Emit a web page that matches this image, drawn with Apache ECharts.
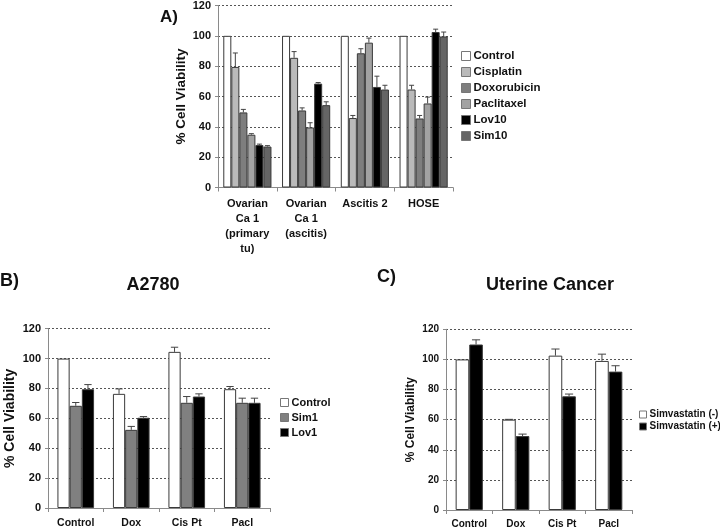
<!DOCTYPE html>
<html>
<head>
<meta charset="utf-8">
<script src="https://cdn.jsdelivr.net/npm/echarts@6/dist/echarts.min.js"></script>
<style>html,body{margin:0;padding:0;background:#fff}#c{width:720px;height:530px}</style>
</head>
<body>
<div id="c"></div>
<script>
// ---------- Panel A ----------
const catsA = ['Ovarian\nCa 1\n(primary\ntu)', 'Ovarian\nCa 1\n(ascitis)', 'Ascitis 2', 'HOSE'];
const namesA = ['Control', 'Cisplatin', 'Doxorubicin', 'Paclitaxel', 'Lov10', 'Sim10'];
const colorsA = ['#ffffff', '#bababa', '#7e7e7e', '#a2a2a2', '#000000', '#656565'];
const valsA = [
  [100, 100, 100, 100],
  [79.5, 85.5, 45.8, 64.6],
  [49.5, 50.8, 88.5, 45.5],
  [34.8, 39.6, 95.5, 55.4],
  [28, 68.5, 66.3, 102.5],
  [27, 54.3, 64.6, 99.6]
];
const errA = [
  [100, 100, 100, 100],
  [88.7, 89.6, 47.5, 67.4],
  [51.5, 52.5, 91.5, 47.5],
  [35.5, 42.7, 98.5, 59.6],
  [28.6, 69.2, 73.4, 104.4],
  [27.6, 56.5, 67.4, 102.5]
];
// ---------- Panel B ----------
const catsB = ['Control', 'Dox', 'Cis Pt', 'Pacl'];
const namesB = ['Control', 'Sim1', 'Lov1'];
const colorsB = ['#ffffff', '#808080', '#000000'];
const valsB = [
  [100, 76.4, 104.5, 79.5],
  [68.4, 52.3, 70.4, 70.4],
  [79.5, 60.4, 74.6, 70.4]
];
const errB = [
  [100, 79.7, 107.6, 81.3],
  [70.6, 54.6, 74.6, 73.5],
  [82.6, 61.2, 76.4, 73.5]
];
// ---------- Panel C ----------
const catsC = ['Control', 'Dox', 'Cis Pt', 'Pacl'];
const namesC = ['Simvastatin (-)', 'Simvastatin (+)'];
const colorsC = ['#ffffff', '#000000'];
const valsC = [
  [100, 60, 102.5, 99],
  [109.9, 49.1, 75.5, 91.9]
];
const errC = [
  [100, 60.2, 106.9, 103.5],
  [113, 50.4, 77, 95.8]
];
const yTicks = [0, 20, 40, 60, 80, 100, 120];

const chart = echarts.init(document.getElementById('c'));
const FONT = 'Liberation Sans, Arial, sans-serif';

const panels = [
  {cats: catsA, names: namesA, colors: colorsA, vals: valsA, errs: errA, gap: 0.18,
   grid: {left: 218, top: 5, width: 235, height: 182.5},
   xFont: 11, xMargin: 9, lineH: 15, yFont: 11, nameFont: 13.5, nameGap: 29,
   legend: {left: 461, top: 49, iconSize: 9, font: 11.5, lineH: 14, gap: 2}},
  {cats: catsB, names: namesB, colors: colorsB, vals: valsB, errs: errB, gap: 0.34,
   grid: {left: 48, top: 328.7, width: 222, height: 179.6},
   xFont: 10.5, xMargin: 9, lineH: 13, yFont: 11, nameFont: 14, nameGap: 31,
   legend: {left: 280, top: 396, iconSize: 8, font: 11, lineH: 13, gap: 2}},
  {cats: catsC, names: namesC, colors: colorsC, vals: valsC, errs: errC, gap: 0.415,
   grid: {left: 446, top: 329.3, width: 186, height: 183.4},
   xFont: 10, xMargin: 8, lineH: 12, yFont: 10, nameFont: 12, nameGap: 29,
   legend: {left: 639, top: 409, iconSize: 7, font: 10, lineH: 11, gap: 1}}
];

const grid = [], xAxis = [], yAxis = [], series = [], legend = [];
panels.forEach((p, pi) => {
  grid.push(p.grid);
  xAxis.push({
    type: 'category', gridIndex: pi, data: p.cats,
    axisLine: {lineStyle: {color: '#8a8a8a', width: 1}},
    axisTick: {show: true, length: 4, lineStyle: {color: '#8a8a8a'}},
    axisLabel: {interval: 0, fontFamily: FONT, fontWeight: 'bold', fontSize: p.xFont, color: '#111', margin: p.xMargin, lineHeight: p.lineH},
    splitLine: {show: false}
  });
  yAxis.push({
    type: 'value', gridIndex: pi, min: yTicks[0], max: yTicks[yTicks.length - 1], interval: 20,
    name: '% Cell Viability', nameLocation: 'middle', nameGap: p.nameGap,
    nameTextStyle: {fontFamily: FONT, fontWeight: 'bold', fontSize: p.nameFont, color: '#111'},
    axisLine: {show: true, lineStyle: {color: '#8a8a8a', width: 1}},
    axisTick: {show: true, length: 3, lineStyle: {color: '#8a8a8a'}},
    axisLabel: {fontFamily: FONT, fontWeight: 'bold', fontSize: p.yFont, color: '#111', margin: 7},
    splitLine: {show: true, lineStyle: {color: '#555', type: [2, 2], width: 1}}
  });
  const n = p.names.length;
  p.names.forEach((nm, si) => {
    series.push({
      type: 'bar', name: nm, xAxisIndex: pi, yAxisIndex: pi,
      data: p.vals[si], barGap: 0, barCategoryGap: (p.gap * 100) + '%',
      itemStyle: {color: p.colors[si], borderColor: '#3a3a3a', borderWidth: 1},
      emphasis: {disabled: true}, animation: false
    });
  });
  p.names.forEach((nm, si) => {
    const d = p.cats.map((c, ci) => [ci, p.vals[si][ci], p.errs[si][ci]]);
    series.push({
      type: 'custom', xAxisIndex: pi, yAxisIndex: pi, data: d, silent: true, z: 5,
      animation: false,
      renderItem: function (params, api) {
        const ci = api.value(0), v = api.value(1), e = api.value(2);
        if (e <= v + 0.05) return null;
        const band = api.size([1, 0])[0];
        const bw = band * (1 - p.gap) / n;
        const base = api.coord([ci, v]);
        const top = api.coord([ci, e]);
        const x = base[0] - band * (1 - p.gap) / 2 + bw * (si + 0.5);
        const cap = Math.max(2.5, bw * 0.3);
        const st = {stroke: '#444', lineWidth: 1};
        return {type: 'group', children: [
          {type: 'line', shape: {x1: x, y1: base[1], x2: x, y2: top[1]}, style: st},
          {type: 'line', shape: {x1: x - cap, y1: top[1], x2: x + cap, y2: top[1]}, style: st}
        ]};
      }
    });
  });
  legend.push({
    orient: 'vertical', left: p.legend.left, top: p.legend.top, padding: 0,
    data: p.names.map((nm, si) => ({name: nm, itemStyle: {color: p.colors[si], borderColor: '#777', borderWidth: 1}})),
    icon: 'rect', itemWidth: p.legend.iconSize, itemHeight: p.legend.iconSize,
    itemGap: p.legend.gap, selectedMode: false,
    textStyle: {fontFamily: FONT, fontWeight: 'bold', fontSize: p.legend.font, color: '#111', lineHeight: p.legend.lineH, padding: [0, 0, 0, -2]}
  });
});

const txt = (t, x, y, size, align) => ({
  type: 'text', x: x, y: y,
  style: {text: t, fontFamily: FONT, fontWeight: 'bold', fontSize: size, fill: '#111', align: align || 'left', verticalAlign: 'middle'}
});

chart.setOption({
  animation: false,
  grid: grid, xAxis: xAxis, yAxis: yAxis, series: series, legend: legend,
  graphic: [
    txt('A)', 160, 17, 17),
    txt('B)', 0, 281, 18),
    txt('A2780', 153, 285, 18, 'center'),
    txt('C)', 377, 277, 18),
    txt('Uterine Cancer', 550, 285, 18, 'center')
  ]
});
</script>
</body>
</html>
